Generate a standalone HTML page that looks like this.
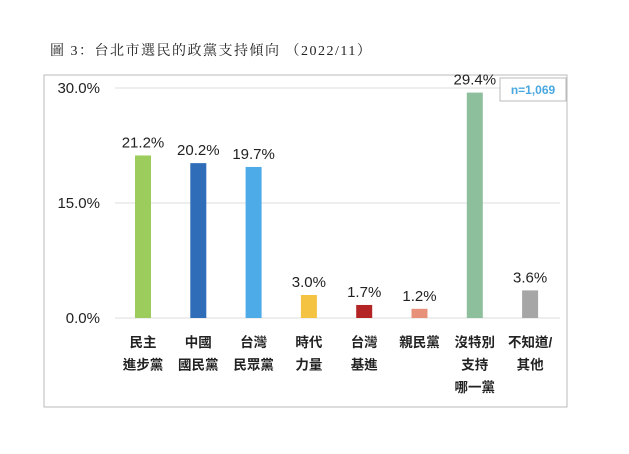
<!DOCTYPE html>
<html><head><meta charset="utf-8"><style>
body{margin:0;background:#fff;width:629px;height:449px;overflow:hidden}
svg text{font-family:"Liberation Sans","Noto Sans CJK TC",sans-serif}
</style></head><body>
<svg width="629" height="449" xmlns="http://www.w3.org/2000/svg">
<text x="50" y="55" font-size="14" fill="#222" letter-spacing="1.5" style="font-family:'Liberation Serif','Noto Serif CJK SC',serif">圖 3：台北市選民的政黨支持傾向 （2022/11）</text>
<rect x="44" y="75" width="523" height="332" fill="none" stroke="#bbb" stroke-width="1"/>
<g id="grid"></g><g id="bars"></g><g id="labels"></g>
<rect x="500" y="78" width="66" height="23" fill="#fff" stroke="#bbb"/>
<text x="533" y="94" font-size="12" font-weight="bold" fill="#4aa8e0" text-anchor="middle">n=1,069</text>
</svg>
<script>
const categories=[["民主","進步黨"],["中國","國民黨"],["台灣","民眾黨"],["時代","力量"],["台灣","基進"],["親民黨"],["沒特別","支持","哪一黨"],["不知道/","其他"]];
const values=[21.2,20.2,19.7,3.0,1.7,1.2,29.4,3.6];
const colors=["#9ccc5c","#2f6db8","#4dabe8","#f5c342","#b52424","#e8917a","#8dbf9c","#a6a6a6"];
const ticks=[0,15,30];
const ns="http://www.w3.org/2000/svg";
const y0=318,yTop=88,xStart=115,step=55.3,bw=16;
const y=v=>y0-(v/30)*(y0-yTop);
const xc=i=>xStart+28+i*step;
function mk(t,a,p){const e=document.createElementNS(ns,t);for(const k in a)e.setAttribute(k,a[k]);document.getElementById(p).appendChild(e);return e;}
ticks.forEach(t=>{
 const l=mk("line",{x1:xStart,x2:560,y1:y(t),y2:y(t),stroke:"#ddd"},"grid");
 
 
 const tx=mk("text",{x:100,y:y(t)+5,"font-size":15,"text-anchor":"end",fill:"#222"},"grid");
 tx.textContent=t.toFixed(1)+"%";
 
 
});
values.forEach((v,i)=>{
 const r=mk("rect",{x:xc(i)-bw/2,y:y(v),width:bw,height:y0-y(v),fill:colors[i]},"bars");
 
 
 const t=mk("text",{x:xc(i),y:y(v)-8,"font-size":15,"text-anchor":"middle",fill:"#222"},"labels");
 t.textContent=v.toFixed(1)+"%";
 
 
 categories[i].forEach((s,j)=>{
  const c=mk("text",{x:xc(i),y:347+j*22.5,"font-size":13.5,"font-weight":"600","text-anchor":"middle",fill:"#222"},"labels");
  c.textContent=s;
  
  
 });
});
</script>
</body></html>
